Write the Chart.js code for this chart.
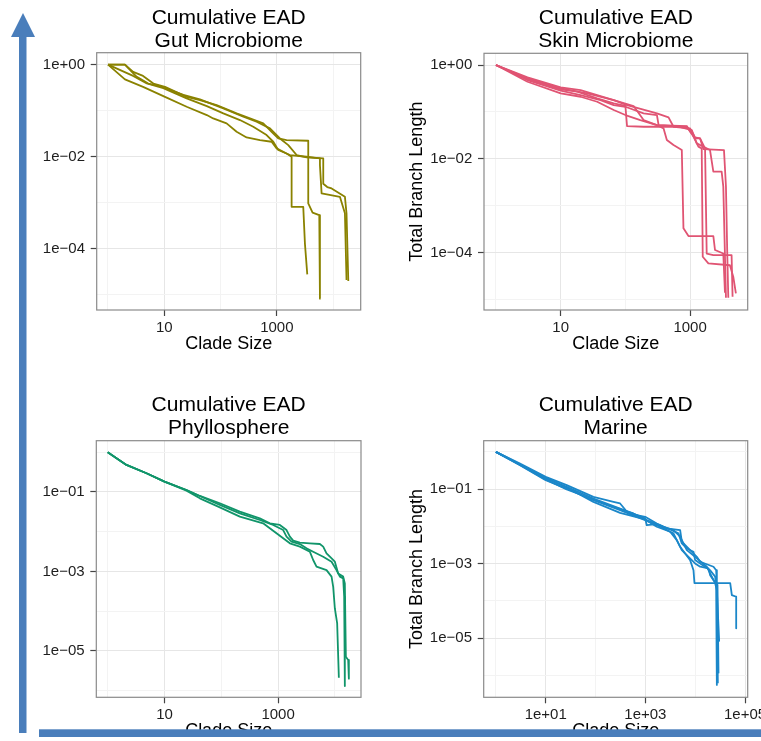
<!DOCTYPE html>
<html>
<head>
<meta charset="utf-8">
<script src="https://cdn.jsdelivr.net/npm/chart.js@4"></script>
<style>
  html, body { margin: 0; padding: 0; background: #fff; }
  body { width: 761px; height: 741px; overflow: hidden; position: relative; }
  .panel { position: absolute; width: 390px; height: 390px; }
  #arrows { position: absolute; left: 0; top: 0; z-index: 5; }
</style>
</head>
<body>
<div class="panel" style="left:0px;top:0px"><canvas id="gut"></canvas></div>
<div class="panel" style="left:380px;top:0px"><canvas id="skin"></canvas></div>
<div class="panel" style="left:0px;top:370px"><canvas id="phyllo"></canvas></div>
<div class="panel" style="left:380px;top:370px"><canvas id="marine"></canvas></div>
<svg id="arrows" width="761" height="741">
  <polygon points="23,13 11,37 35,37" fill="#4a7ebb"/>
  <rect x="19" y="36" width="7.5" height="697" fill="#4a7ebb"/>
  <rect x="39" y="729.3" width="722" height="7.7" fill="#4a7ebb"/>
</svg>
<script>
// clade size / total branch length
const gutClade1 = [1, 2, 2.8, 4.2, 6.4, 10.3, 25, 43, 85, 193, 333, 574, 807, 1060, 1490, 3615, 3615, 4315, 5675, 5830];
const gutLength1 = [1, 1, 0.70, 0.57, 0.39, 0.33, 0.20, 0.17, 0.133, 0.0875, 0.068, 0.053, 0.0349, 0.025, 0.023, 0.0223, 0.00097, 0.00061, 0.00054, 8.3e-6];
const gutClade2 = [1, 2, 3.2, 5.2, 8.4, 21.8, 43, 112, 254, 437, 754, 1135, 1596, 2244, 3380, 6680, 6680, 7870, 9400, 16200, 17300, 18600];
const gutLength2 = [1, 1, 0.55, 0.39, 0.34, 0.22, 0.176, 0.112, 0.074, 0.0577, 0.0413, 0.025, 0.0179, 0.0109, 0.0097, 0.0092, 0.0026, 0.0022, 0.00205, 0.00135, 0.00059, 2.0e-5];
const gutClade3 = [1, 2, 4.2, 10.3, 25, 57, 74, 128, 193, 290, 501, 807, 991, 1490, 1830, 1830, 2946, 3155, 3474];
const gutLength3 = [1, 0.48, 0.33, 0.20, 0.122, 0.0805, 0.068, 0.053, 0.0349, 0.0263, 0.023, 0.0212, 0.0152, 0.0118, 0.010, 0.00082, 0.00082, 0.00013, 2.8e-5];
const gutClade4 = [1, 2.8, 4.9, 9.6, 25, 57, 112, 221, 381, 658, 864, 1060, 1710, 3380, 5830, 5830, 6240, 13200, 16200, 17300];
const gutLength4 = [1, 0.57, 0.39, 0.31, 0.185, 0.126, 0.0875, 0.0627, 0.0449, 0.0296, 0.0212, 0.014, 0.0109, 0.010, 0.0092, 0.0066, 0.0016, 0.00135, 0.00059, 2.1e-5];

const skinClade1 = [1, 3.07, 10, 20.3, 66, 106, 307, 464, 554, 1000, 1194, 1425, 1603, 3336, 3580, 3750, 3890];
const skinLength1 = [1, 0.546, 0.334, 0.293, 0.179, 0.140, 0.093, 0.0766, 0.0484, 0.0446, 0.0287, 0.0273, 0.0162, 0.0154, 0.00255, 9.6e-5, 1.09e-5];
const skinClade2 = [1, 3.07, 10, 18, 36.6, 66, 100, 106, 191, 389, 889, 1061, 1343, 1511, 1567, 1914, 4120, 4643, 5100];
const skinLength2 = [1, 0.495, 0.303, 0.27, 0.195, 0.152, 0.134, 0.05, 0.0484, 0.0484, 0.0484, 0.0349, 0.0182, 0.0167, 8.2e-5, 5.9e-5, 5.4e-5, 3.07e-5, 1.35e-5];
const skinClade3 = [1, 3.07, 10, 20.3, 36.6, 66, 100, 170, 307, 389, 437, 554, 744, 789, 943, 2285, 2424, 3257, 3455];
const skinLength3 = [1, 0.441, 0.249, 0.211, 0.165, 0.11, 0.086, 0.0672, 0.0526, 0.0446, 0.0252, 0.0197, 0.0154, 3.3e-4, 2.26e-4, 2.26e-4, 1.14e-4, 9.6e-5, 1.4e-5];
const skinClade4 = [1, 3.07, 10, 20.3, 41.2, 66, 100, 191, 307, 326, 623, 1061, 1267, 2030, 2285, 3070, 3257, 3580];
const skinLength4 = [1, 0.479, 0.284, 0.229, 0.179, 0.140, 0.129, 0.093, 0.086, 0.0526, 0.05, 0.0411, 0.0214, 0.0154, 0.00532, 0.00532, 0.00255, 1.09e-5];
const skinClade5 = [1, 3.07, 10, 25.7, 66, 134, 191, 307, 889, 1000, 1194, 1425, 1702, 1804, 2285, 4373, 4530];
const skinLength5 = [1, 0.52, 0.318, 0.249, 0.179, 0.134, 0.0672, 0.0526, 0.05, 0.0379, 0.0273, 0.0273, 0.0167, 9.6e-5, 8.9e-5, 8.9e-5, 1.15e-5];

const phylloClade1 = [1, 2.14, 4.82, 10, 24.4, 41.9, 94.2, 212, 476, 715, 1073, 1407, 1611, 1844, 2416, 3620, 5433, 6220, 7121, 8153, 9980, 11420, 13990, 14960, 15590, 17130, 17610];
const phylloLength1 = [1, 0.479, 0.295, 0.182, 0.112, 0.0793, 0.0519, 0.032, 0.0217, 0.0163, 0.0148, 0.011, 0.0075, 0.00594, 0.0053, 0.0051, 0.0049, 0.0042, 0.00285, 0.00235, 0.00176, 0.00089, 0.00074, 0.0005, 7.1e-6, 5.9e-6, 2.0e-6];
const phylloClade2 = [1, 2.14, 4.82, 10, 24.4, 41.9, 94.2, 212, 476, 819, 1229, 1407, 1723, 2416, 3162, 4145, 6220, 8730, 10670, 12230, 13990, 14560, 14960];
const phylloLength2 = [1, 0.479, 0.295, 0.182, 0.112, 0.0793, 0.0471, 0.029, 0.0197, 0.0148, 0.011, 0.0075, 0.00561, 0.0049, 0.00381, 0.00314, 0.00235, 0.00176, 0.00108, 0.00074, 0.00067, 0.00023, 1.3e-6];
const phylloClade3 = [1, 2.14, 4.82, 10, 24.4, 41.9, 94.2, 212, 545, 937, 1611, 2416, 3620, 4145, 4745, 7121, 8730, 9333, 9980, 10960, 11740];
const phylloLength3 = [1, 0.479, 0.295, 0.182, 0.108, 0.0692, 0.0411, 0.0239, 0.0163, 0.0091, 0.0051, 0.0042, 0.00314, 0.00194, 0.00132, 0.00108, 0.00074, 0.00041, 0.000117, 4.9e-5, 2.1e-6];

const marineClade1 = [1, 3.05, 10, 26.4, 90.6, 229, 311, 457, 989, 1694, 3138, 4617, 5384, 6783, 9230, 9950, 12560, 19950, 25120, 26310, 27160];
const marineLength1 = [1, 0.488, 0.214, 0.128, 0.0623, 0.0457, 0.0413, 0.0223, 0.0181, 0.012, 0.0083, 0.0065, 0.0035, 0.00257, 0.00209, 0.00125, 0.00102, 0.00067, 0.00045, 0.00024, 5.6e-7];
const marineClade2 = [1, 3.05, 10, 26.4, 90.6, 311, 989, 1067, 1694, 2690, 4983, 5384, 7907, 10770, 12560, 23280, 26310, 27160, 28440];
const marineLength2 = [1, 0.468, 0.193, 0.1156, 0.0562, 0.0303, 0.0164, 0.0108, 0.0115, 0.0088, 0.008, 0.0039, 0.00232, 0.00153, 0.00113, 0.00083, 0.00067, 0.0003, 6.2e-7];
const marineClade3 = [1, 3.05, 10, 26.4, 90.6, 311, 989, 1977, 3661, 4983, 6281, 7907, 9230, 9660, 50350, 54330, 66400, 66400];
const marineLength3 = [1, 0.44, 0.174, 0.104, 0.0507, 0.0274, 0.0148, 0.0098, 0.0065, 0.00284, 0.00188, 0.00125, 0.00067, 0.0003, 0.0003, 0.000144, 0.00013, 1.84e-5];
const marineClade4 = [1, 3.05, 10, 26.4, 90.6, 311, 989, 1694, 3138, 4271, 5384, 7328, 9950, 12560, 18450, 19950, 23280, 28000, 29330];
const marineLength4 = [1, 0.458, 0.206, 0.111, 0.0457, 0.0232, 0.0154, 0.0098, 0.0072, 0.0043, 0.00232, 0.00153, 0.00102, 0.00083, 0.00075, 0.00049, 0.00036, 0.00027, 1.14e-6];
const marineClade5 = [1, 3.05, 10, 26.4, 90.6, 229, 576, 1067, 2306, 3661, 4983, 6783, 9950, 17100, 21530, 25120, 27160, 30260];
const marineLength5 = [1, 0.449, 0.182, 0.098, 0.0528, 0.0336, 0.0223, 0.0148, 0.0098, 0.008, 0.0053, 0.00232, 0.00153, 0.00083, 0.00045, 0.0003, 0.000196, 8.1e-6];

// ticks (empty label = minor grid line only) and axis limits
const sizeTicks = [1, 10, 100, 1000, 10000];
const sizeLabels = ['', '10', '', '1000', ''];
const skinSizeTicks = [1, 10, 100, 1000];
const skinSizeLabels = ['', '10', '', '1000'];
const marineSizeTicks = [1, 10, 100, 1000, 10000, 100000];
const marineSizeLabels = ['', '1e+01', '', '1e+03', '', '1e+05'];
const evenTicks = [1, 0.1, 0.01, 0.001, 1e-4, 1e-5];
const evenLabels = ['1e+00', '', '1e\u221202', '', '1e\u221204', ''];
const oddTicks = [1, 0.1, 0.01, 0.001, 1e-4, 1e-5, 1e-6];
const oddLabels = ['', '1e\u221201', '', '1e\u221203', '', '1e\u221205', ''];

const gutXRange = [0.63, 30900], gutYRange = [4.7e-6, 1.82];
const skinXRange = [0.653, 7760], skinYRange = [6.0e-6, 1.78];
const phylloXRange = [0.63, 28800], phylloYRange = [6.8e-7, 1.95];
const marineXRange = [0.57, 113000], marineYRange = [2.6e-7, 2.0];

Chart.defaults.font.family = "'Liberation Sans', Arial, Helvetica, sans-serif";
Chart.defaults.color = '#222';

const panelBorder = {
  id: 'panelBorder',
  afterDatasetsDraw(chart) {
    const { ctx, chartArea: a } = chart;
    ctx.save();
    ctx.strokeStyle = '#8a8a8a';
    ctx.lineWidth = 1.2;
    ctx.strokeRect(a.left, a.top, a.right - a.left, a.bottom - a.top);
    ctx.restore();
  }
};

function logAxis(values, labels, range, pad, fit, title) {
  return {
    type: 'logarithmic',
    bounds: 'data',
    min: range[0],
    max: range[1],
    afterBuildTicks: s => { s.ticks = values.map(v => ({ value: v })); },
    afterFit: fit,
    ticks: {
      autoSkip: false, maxRotation: 0, minRotation: 0, padding: pad,
      color: '#1e1e1e', font: { size: 15 },
      callback: (v, i) => labels[i]
    },
    grid: {
      lineWidth: 1,
      color: c => (c.tick && c.tick.label) ? '#e6e6e6' : '#f3f3f3',
      tickLength: 6,
      tickWidth: 1.2,
      tickColor: c => (c.tick && c.tick.label) ? '#444' : 'rgba(0,0,0,0)'
    },
    border: { display: false },
    title: title
  };
}

// box = plot panel in page coordinates [left, top, right, bottom]
function panel(id, origin, box, titleCenter, name, xs, ys, series, color, yTitle) {
  const H = 390;
  const l = box[0] - origin[0], t = box[1] - origin[1];
  const r = box[2] - origin[0], b = box[3] - origin[1];
  const lh = 21 * 1.08;
  const tTop = titleCenter - lh / 2;
  new Chart(document.getElementById(id), {
    type: 'scatter',
    data: {
      datasets: series.map(s => ({
        data: s[0].map((x, i) => ({ x: x, y: s[1][i] })),
        showLine: true,
        borderColor: color,
        borderWidth: 1.8,
        borderJoinStyle: 'round',
        pointRadius: 0,
        tension: 0,
        fill: false
      }))
    },
    options: {
      animation: false,
      responsive: true,
      maintainAspectRatio: false,
      events: [],
      layout: { padding: { left: 0, top: 0, right: 390 - r, bottom: 0 } },
      plugins: {
        legend: { display: false },
        tooltip: { enabled: false },
        title: {
          display: true,
          fullSize: false,
          text: ['Cumulative EAD', name],
          color: '#000',
          font: { size: 21, weight: 'normal', lineHeight: 1.08 },
          padding: { top: tTop + 1.5, bottom: t - tTop - 1.5 - 2 * lh }
        }
      },
      scales: {
        x: logAxis(xs[0], xs[1], xs[2], 2.5,
          s => { s.height = H - b; s.paddingLeft = 0; s.paddingRight = 0; },
          { display: true, text: 'Clade Size', color: '#000', font: { size: 18, lineHeight: 1.2 },
            padding: { top: 0, bottom: H - (b + 34.2) - 10.8 } }),
        y: logAxis(ys[0], ys[1], ys[2], 5.7,
          s => { s.width = l; s.paddingTop = 0; s.paddingBottom = 0; },
          { display: !!yTitle, text: 'Total Branch Length', color: '#000', font: { size: 18, lineHeight: 1.2 },
            padding: { top: yTitle || 0, bottom: 0 } })
      }
    },
    plugins: [panelBorder]
  });
}

panel('gut', [0, 0], [96.7, 52.7, 360.7, 310], 17, 'Gut Microbiome',
  [sizeTicks, sizeLabels, gutXRange], [evenTicks, evenLabels, gutYRange],
  [[gutClade1, gutLength1], [gutClade2, gutLength2], [gutClade3, gutLength3], [gutClade4, gutLength4]],
  '#8a8200', 0);

panel('skin', [380, 0], [484, 53.3, 747.7, 310], 17, 'Skin Microbiome',
  [skinSizeTicks, skinSizeLabels, skinXRange], [evenTicks, evenLabels, skinYRange],
  [[skinClade1, skinLength1], [skinClade2, skinLength2], [skinClade3, skinLength3], [skinClade4, skinLength4], [skinClade5, skinLength5]],
  '#e05473', 25.9);

panel('phyllo', [0, 370], [96.3, 440.7, 361, 697.3], 33.7, 'Phyllosphere',
  [sizeTicks, sizeLabels, phylloXRange], [oddTicks, oddLabels, phylloYRange],
  [[phylloClade1, phylloLength1], [phylloClade2, phylloLength2], [phylloClade3, phylloLength3]],
  '#11956a', 0);

panel('marine', [380, 370], [483.7, 440.7, 747.7, 697.3], 33.7, 'Marine',
  [marineSizeTicks, marineSizeLabels, marineXRange], [oddTicks, oddLabels, marineYRange],
  [[marineClade1, marineLength1], [marineClade2, marineLength2], [marineClade3, marineLength3], [marineClade4, marineLength4], [marineClade5, marineLength5]],
  '#1b87c9', 26.7);
</script>
</body>
</html>
